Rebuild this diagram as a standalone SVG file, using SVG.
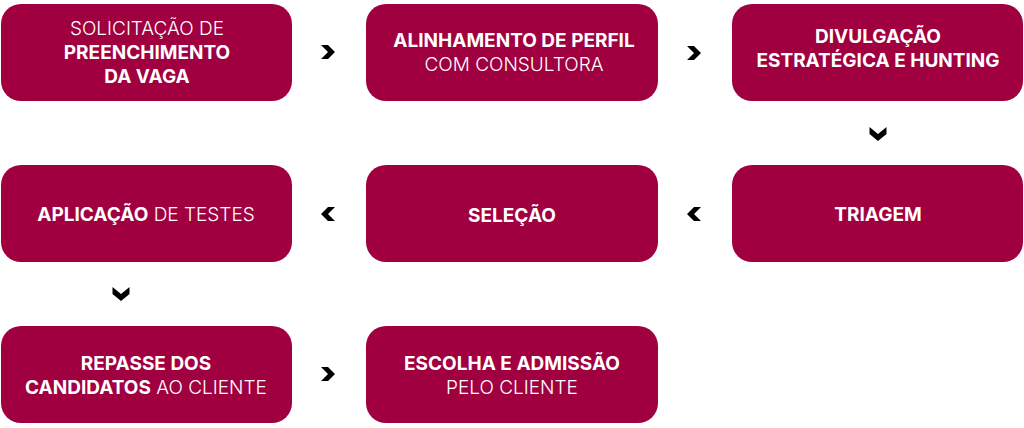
<svg xmlns="http://www.w3.org/2000/svg" width="1024" height="428" viewBox="0 0 1024 428">
<style>
.box{fill:#A00040}
.t{font-family:Inter,"Open Sans","Liberation Sans",sans-serif;font-size:19px;fill:#ffffff;text-anchor:middle}
.b{font-weight:700}
.l{font-weight:300}
.chev{fill:#000000}
</style>
<defs>
<path id="chevR" d="M-7,-7 L0,-7 L7,0 L0,7 L-7,7 L0,0 Z"/>
<path id="chevD" d="M-8.5,-7 L0,0 L8.5,-7 L8.5,0 L0,7 L-8.5,0 Z"/>
</defs>
<rect width="1024" height="428" fill="#ffffff"/>
<g id="connectors" class="chev">
<use href="#chevR" transform="translate(328,52)"/>
<use href="#chevR" transform="translate(694,53)"/>
<use href="#chevD" transform="translate(878,134)"/>
<use href="#chevR" transform="translate(694,214) scale(-1,1)"/>
<use href="#chevR" transform="translate(328,214) scale(-1,1)"/>
<use href="#chevD" transform="translate(121,294)"/>
<use href="#chevR" transform="translate(328,374)"/>
</g>
<g id="n1">
<rect class="box" x="1" y="4" width="291" height="97" rx="20"/>
<text class="t l" x="147" y="35">SOLICITAÇÃO DE</text>
<text class="t b" x="147" y="59">PREENCHIMENTO</text>
<text class="t b" x="147" y="83">DA VAGA</text>
</g>
<g id="n2">
<rect class="box" x="366" y="4" width="292" height="97" rx="20"/>
<text class="t b" x="514" y="47">ALINHAMENTO DE PERFIL</text>
<text class="t l" x="514" y="71">COM CONSULTORA</text>
</g>
<g id="n3">
<rect class="box" x="732" y="4" width="291" height="97" rx="20"/>
<text class="t b" x="878" y="43">DIVULGAÇÃO</text>
<text class="t b" x="878" y="67">ESTRATÉGICA E HUNTING</text>
</g>
<g id="n4">
<rect class="box" x="732" y="165" width="291" height="97" rx="20"/>
<text class="t b" x="878" y="221">TRIAGEM</text>
</g>
<g id="n5">
<rect class="box" x="366" y="165" width="292" height="97" rx="20"/>
<text class="t b" x="512" y="222">SELEÇÃO</text>
</g>
<g id="n6">
<rect class="box" x="1" y="165" width="291" height="97" rx="20"/>
<text class="t" x="146" y="221"><tspan class="b">APLICAÇÃO</tspan><tspan class="l"> DE TESTES</tspan></text>
</g>
<g id="n7">
<rect class="box" x="1" y="326" width="291" height="97" rx="20"/>
<text class="t b" x="146" y="370">REPASSE DOS</text>
<text class="t" x="146" y="394"><tspan class="b">CANDIDATOS</tspan><tspan class="l"> AO CLIENTE</tspan></text>
</g>
<g id="n8">
<rect class="box" x="366" y="326" width="292" height="97" rx="20"/>
<text class="t b" x="512" y="370">ESCOLHA E ADMISSÃO</text>
<text class="t l" x="512" y="394">PELO CLIENTE</text>
</g>
</svg>
